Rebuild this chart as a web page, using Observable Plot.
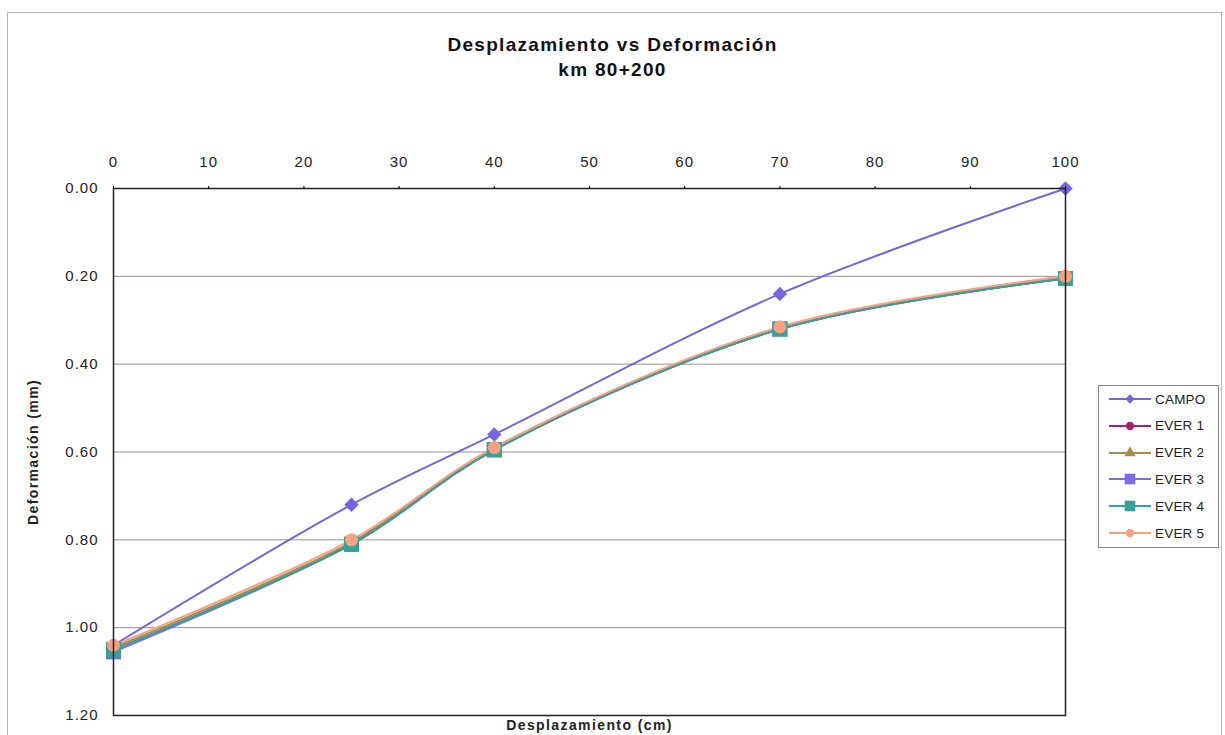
<!DOCTYPE html>
<html>
<head>
<meta charset="utf-8">
<script src="https://cdn.jsdelivr.net/npm/d3@7"></script>
<script src="https://cdn.jsdelivr.net/npm/@observablehq/plot@0.6"></script>
<style>
  html, body { margin: 0; padding: 0; background: #fff; }
  #wrap { position: relative; width: 1225px; height: 735px; overflow: hidden; font-family: "Liberation Sans", Arial, sans-serif; }
  #border { position: absolute; left: 7px; top: 12px; width: 1215px; height: 740px; border: 1px solid #bdb3b7; box-sizing: border-box; }
  #title { position: absolute; left: 0; width: 1225px; top: 32px; text-align: center; font-weight: bold; font-size: 19px; line-height: 25px; letter-spacing: 1.3px; color: #111; }
  #chart { position: absolute; left: 0; top: 0; }
  #chart svg text { letter-spacing: 1px; }
  #chart svg g[aria-label="text"] text { letter-spacing: 1.4px; }
  #legend { position: absolute; left: 1098px; top: 385px; width: 121px; height: 163px; border: 1px solid #8c8288; box-sizing: border-box; background: #fff; }
  .lg { position: absolute; left: 9px; height: 20px; display: flex; align-items: center; font-size: 13.5px; color: #222; letter-spacing: 0.2px; }
  .lg svg { margin-right: 3px; }
</style>
</head>
<body>
<div id="wrap">
  <div id="border"></div>
  <div id="title">Desplazamiento vs Deformación<br>km 80+200</div>
  <div id="chart"></div>
  <div id="legend"></div>
</div>
<script>
// Data
const desplazamiento = [0, 25, 40, 70, 100];
const seriesNames = ["CAMPO", "EVER 1", "EVER 2", "EVER 3", "EVER 4", "EVER 5"];
const campo = [1.04, 0.72, 0.56, 0.24, 0.00];
const ever1 = [1.05, 0.81, 0.595, 0.32, 0.205];
const ever2 = [1.045, 0.805, 0.59, 0.32, 0.20];
const ever3 = [1.055, 0.81, 0.595, 0.32, 0.205];
const ever4 = [1.05, 0.81, 0.595, 0.32, 0.205];
const ever5 = [1.04, 0.80, 0.59, 0.315, 0.20];
const xTicks = [0, 10, 20, 30, 40, 50, 60, 70, 80, 90, 100];
const yTicks = [0, 0.2, 0.4, 0.6, 0.8, 1.0, 1.2];
const gridValues = [0.2, 0.4, 0.6, 0.8, 1.0];

const seriesValues = [campo, ever1, ever2, ever3, ever4, ever5];
const colors = ["#7466dc", "#a3226c", "#a38e4e", "#7a6ee0", "#38a096", "#f7a183"];
const symbols = ["diamond2", "circle", "triangle", "square", "square", "circle"];
const radii = [6.5, 6, 5, 8.5, 8.5, 6.5];

const data = [];
seriesNames.forEach((s, i) => {
  desplazamiento.forEach((x, j) => data.push({serie: s, x, y: seriesValues[i][j]}));
});

const marks = [
  Plot.ruleY(gridValues, {stroke: "#9e8d93", strokeWidth: 1})
];
seriesNames.forEach((s, i) => {
  const d = data.filter(r => r.serie === s);
  marks.push(Plot.line(d, {x: "x", y: "y", stroke: colors[i], strokeWidth: 2, curve: "catmull-rom"}));
});
seriesNames.forEach((s, i) => {
  const d = data.filter(r => r.serie === s);
  marks.push(Plot.dot(d, {x: "x", y: "y", fill: colors[i], stroke: "none", symbol: () => symbols[i], r: radii[i]}));
});
marks.push(Plot.frame({stroke: "#222", strokeWidth: 1.5}));
marks.push(Plot.axisX(xTicks, {anchor: "top", tickSize: 3, tickPadding: 19, fontSize: 15, fill: "#222", label: null}));
marks.push(Plot.axisY(yTicks, {anchor: "left", tickSize: 0, tickPadding: 15, tickFormat: d3.format(".2f"), fontSize: 15, fill: "#222", label: null}));
marks.push(Plot.text(["Deformación (mm)"], {frameAnchor: "left", textAnchor: "middle", dx: -80, rotate: -90, fontWeight: "bold", fontSize: 14, fill: "#222"}));
marks.push(Plot.text(["Desplazamiento (cm)"], {frameAnchor: "bottom", textAnchor: "middle", dy: 14, fontWeight: "bold", fontSize: 14, fill: "#222"}));

const chart = Plot.plot({
  width: 1225,
  height: 735,
  marginLeft: 113,
  marginRight: 160,
  marginTop: 188,
  marginBottom: 20,
  style: {background: "transparent", fontFamily: "Liberation Sans, Arial, sans-serif", overflow: "visible"},
  x: {domain: [0, 100]},
  y: {domain: [0, 1.2], reverse: true},
  marks
});
document.getElementById("chart").appendChild(chart);

// Legend
const legend = document.getElementById("legend");
seriesNames.forEach((s, i) => {
  const row = document.createElement("div");
  row.className = "lg";
  row.style.top = (3 + i * 26.8) + "px";
  const sym = d3.symbol(
    {diamond2: d3.symbolDiamond2, circle: d3.symbolCircle, triangle: d3.symbolTriangle, square: d3.symbolSquare}[symbols[i]],
    Math.PI * Math.pow(symbols[i] === "square" ? 6 : 4.2, 2)
  )();
  row.innerHTML = `<svg width="44" height="20"><line x1="1" x2="43" y1="10" y2="10" stroke="${colors[i]}" stroke-width="2"/><path d="${sym}" transform="translate(22,10)" fill="${colors[i]}"/></svg><span>${s}</span>`;
  legend.appendChild(row);
});
</script>
</body>
</html>
